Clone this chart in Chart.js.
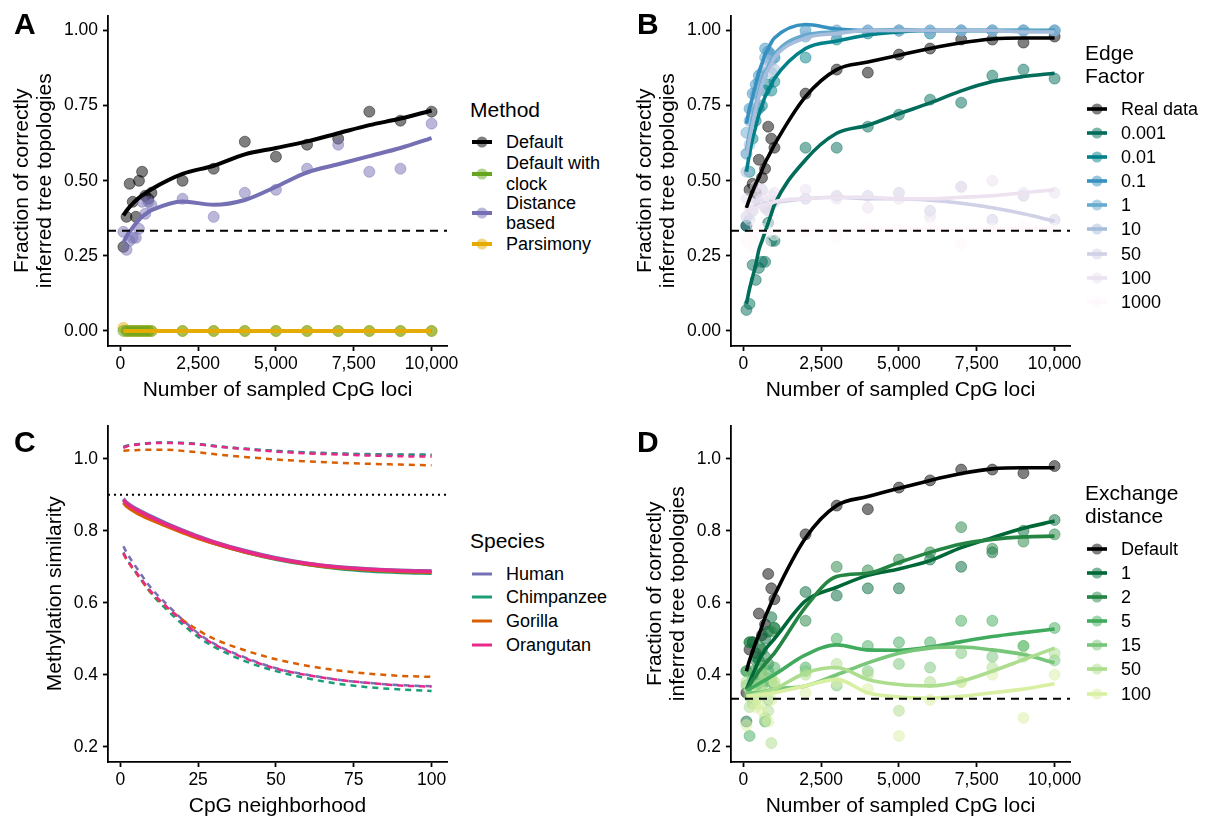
<!DOCTYPE html>
<html>
<head>
<meta charset="utf-8">
<script src="https://cdn.jsdelivr.net/npm/chart.js@4.4.0/dist/chart.umd.min.js"></script>
<style>
  body { margin: 0; background: #fff; font-family: "Liberation Sans", Arial, sans-serif; color: #000; }
  #fig { position: relative; width: 1212px; height: 820px; overflow: hidden; }
  canvas { position: absolute; }
  .tag { position: absolute; font-weight: bold; font-size: 30px; line-height: 30px; }
  .lg { position: absolute; top: 0; }
  .lg .ttl { position: absolute; left: 0; font-size: 21px; line-height: 23px; white-space: nowrap; }
  .lg .row { position: absolute; left: 0; display: flex; align-items: center; font-size: 18px; line-height: 20.5px; white-space: nowrap; }
  .lg .row svg { margin-left: 1px; margin-right: 13px; }
</style>
</head>
<body>
<div id="fig">
  <canvas id="chartA" width="467" height="405" style="left:0;top:0"></canvas>
  <canvas id="chartB" width="467" height="405" style="left:623px;top:0"></canvas>
  <canvas id="chartC" width="467" height="410" style="left:0;top:410px"></canvas>
  <canvas id="chartD" width="467" height="410" style="left:623px;top:410px"></canvas>
  <div class="tag" style="left:14px;top:9px">A</div>
  <div class="tag" style="left:637px;top:9px">B</div>
  <div class="tag" style="left:14px;top:427px">C</div>
  <div class="tag" style="left:637px;top:427px">D</div>
  <div class="lg" id="legA" style="left:470px"></div>
  <div class="lg" id="legB" style="left:1085px"></div>
  <div class="lg" id="legC" style="left:470px"></div>
  <div class="lg" id="legD" style="left:1085px"></div>
</div>
<script>
// ---- data ----
const sampledLoci = [100, 200, 300, 400, 500, 600, 700, 800, 900, 1000,
  2000, 3000, 4000, 5000, 6000, 7000, 8000, 9000, 10000];
const lociTicks = [0, 2500, 5000, 7500, 10000];
const fracTicks = [0, 0.25, 0.5, 0.75, 1];
const chanceLevel = 1 / 3;

// panel A - method
const methodNames = ['Default', 'Default with clock', 'Distance based', 'Parsimony'];
const methodColors = ['#000000', '#66a61e', '#7570b3', '#e6ab02'];
const defaultPts = [0.28, 0.38, 0.49, 0.43, 0.38, 0.50, 0.53, 0.45, 0.44, 0.46,
  0.50, 0.54, 0.63, 0.58, 0.62, 0.64, 0.73, 0.70, 0.73];
const defaultFit = [0.385, 0.40, 0.413, 0.424, 0.434, 0.443, 0.451, 0.458, 0.465, 0.472,
  0.523, 0.55, 0.588, 0.609, 0.631, 0.658, 0.685, 0.707, 0.734];
const clockPts = [0, 0, 0, 0, 0, 0, 0, 0, 0, 0, 0, 0, 0, 0, 0, 0, 0, 0, 0];
const clockFit = [0, 0, 0, 0, 0, 0, 0, 0, 0, 0, 0, 0, 0, 0, 0, 0, 0, 0, 0];
const distancePts = [0.33, 0.27, 0.30, 0.31, 0.31, 0.34, 0.43, 0.39, 0.43, 0.42,
  0.44, 0.38, 0.46, 0.47, 0.54, 0.62, 0.53, 0.54, 0.69];
const distanceFit = [0.295, 0.315, 0.33, 0.345, 0.358, 0.37, 0.38, 0.388, 0.396, 0.402,
  0.431, 0.42, 0.436, 0.48, 0.528, 0.555, 0.582, 0.609, 0.642];
const parsimonyPts = [0.01, 0, 0, 0, 0, 0, 0, 0, 0, 0, 0, 0, 0, 0, 0, 0, 0, 0, 0];
const parsimonyFit = [0, 0, 0, 0, 0, 0, 0, 0, 0, 0, 0, 0, 0, 0, 0, 0, 0, 0, 0];

// real data / default run (used in B and D)
const realPts = [0.35, 0.47, 0.49, 0.46, 0.57, 0.51, 0.54, 0.68, 0.64, 0.61,
  0.79, 0.87, 0.86, 0.92, 0.94, 0.97, 0.97, 0.96, 0.98];
const realFit = [0.41, 0.44, 0.465, 0.49, 0.51, 0.535, 0.56, 0.58, 0.60, 0.62,
  0.78, 0.87, 0.895, 0.918, 0.94, 0.959, 0.972, 0.975, 0.975];

// panel B - edge factor
const edgeNames = ['Real data', '0.001', '0.01', '0.1', '1', '10', '50', '100', '1000'];
const edgeColors = ['#000000', '#016c59', '#02818a', '#3690c0', '#67a9cf', '#a6bddb', '#d0d1e6', '#ece2f0', '#fff7fb'];
const edge0001Pts = [0.07, 0.09, 0.22, 0.17, 0.21, 0.23, 0.23, 0.36, 0.30, 0.30,
  0.61, 0.61, 0.68, 0.72, 0.77, 0.76, 0.85, 0.87, 0.84];
const edge0001Fit = [0.09, 0.14, 0.18, 0.22, 0.27, 0.30, 0.33, 0.36, 0.39, 0.42,
  0.57, 0.658, 0.685, 0.723, 0.759, 0.799, 0.83, 0.847, 0.858];
const edge001Pts = [0.35, 0.53, 0.64, 0.70, 0.74, 0.75, 0.80, 0.82, 0.80, 0.83,
  0.91, 0.97, 0.99, 1.0, 0.99, 1.0, 1.0, 1.0, 1.0];
const edge001Fit = [0.53, 0.59, 0.64, 0.68, 0.72, 0.75, 0.78, 0.80, 0.82, 0.84,
  0.94, 0.965, 0.985, 0.995, 1.0, 1.0, 1.0, 1.0, 1.0];
const edge01Pts = [0.59, 0.74, 0.79, 0.82, 0.85, 0.85, 0.94, 0.93, 0.92, 0.91,
  1.0, 1.0, 1.0, 1.0, 1.0, 1.0, 1.0, 1.0, 1.0];
const edge01Fit = [0.69, 0.74, 0.78, 0.82, 0.86, 0.89, 0.92, 0.94, 0.96, 0.975,
  1.02, 1.005, 1.0, 1.0, 1.0, 1.0, 1.0, 1.0, 1.0];
const edge1Pts = [0.66, 0.70, 0.74, 0.79, 0.83, 0.86, 0.91, 0.93, 0.90, 0.91,
  0.98, 0.99, 1.0, 1.0, 1.0, 1.0, 1.0, 1.0, 1.0];
const edge1Fit = [0.60, 0.66, 0.71, 0.75, 0.79, 0.83, 0.86, 0.88, 0.90, 0.92,
  0.985, 0.995, 1.0, 1.003, 1.0, 1.0, 1.0, 1.0, 0.997];
const edge10Pts = [0.53, 0.62, 0.71, 0.76, 0.80, 0.84, 0.88, 0.90, 0.86, 0.87,
  0.98, 1.0, 1.0, 1.0, 1.0, 1.0, 1.0, 1.0, 1.0];
const edge10Fit = [0.58, 0.64, 0.69, 0.74, 0.78, 0.82, 0.85, 0.87, 0.89, 0.91,
  0.975, 0.99, 1.0, 1.0, 1.0, 1.0, 1.0, 0.995, 0.995];
const edge50Pts = [0.38, 0.37, 0.40, 0.44, 0.43, 0.47, 0.41, 0.40, 0.42, 0.43,
  0.44, 0.45, 0.45, 0.46, 0.40, 0.48, 0.37, 0.45, 0.37];
const edge50Fit = [0.40, 0.405, 0.41, 0.415, 0.42, 0.42, 0.425, 0.425, 0.43, 0.43,
  0.44, 0.445, 0.44, 0.44, 0.435, 0.425, 0.41, 0.39, 0.365];
const edge100Pts = [0.44, 0.40, 0.42, 0.48, 0.46, 0.44, 0.41, 0.43, 0.45, 0.46,
  0.47, 0.44, 0.41, 0.44, 0.38, 0.48, 0.50, 0.46, 0.46];
const edge100Fit = [0.40, 0.405, 0.41, 0.41, 0.415, 0.42, 0.42, 0.425, 0.425, 0.43,
  0.44, 0.445, 0.445, 0.44, 0.44, 0.445, 0.45, 0.46, 0.47];
const edge1000Pts = [0.30, 0.32, 0.28, 0.35, 0.31, 0.34, 0.29, 0.33, 0.36, 0.32,
  0.33, 0.31, 0.34, 0.34, 0.35, 0.29, 0.34, 0.35, 0.34];
const edge1000Fit = [0.32, 0.322, 0.324, 0.326, 0.328, 0.33, 0.33, 0.331, 0.332, 0.333,
  0.335, 0.336, 0.337, 0.338, 0.338, 0.338, 0.339, 0.34, 0.34];

// panel C - species
const neighborhood = [1, 2, 5, 10, 15, 20, 25, 30, 40, 50, 60, 70, 80, 90, 100];
const neighborTicks = [0, 25, 50, 75, 100];
const simTicks = [0.2, 0.4, 0.6, 0.8, 1.0];
const simThreshold = 0.9;
const speciesNames = ['Human', 'Chimpanzee', 'Gorilla', 'Orangutan'];
const speciesColors = ['#7570b3', '#1b9e77', '#d95f02', '#e7298a'];
const humanMid = [0.889, 0.879, 0.862, 0.84, 0.82, 0.802, 0.785, 0.77, 0.745, 0.725, 0.71, 0.70, 0.694, 0.69, 0.688];
const chimpMid = [0.886, 0.876, 0.858, 0.836, 0.816, 0.798, 0.781, 0.766, 0.741, 0.721, 0.706, 0.695, 0.688, 0.684, 0.682];
const gorillaMid = [0.878, 0.868, 0.851, 0.83, 0.812, 0.795, 0.779, 0.765, 0.741, 0.722, 0.707, 0.697, 0.691, 0.687, 0.685];
const orangutanMid = [0.886, 0.876, 0.859, 0.837, 0.817, 0.80, 0.783, 0.768, 0.743, 0.723, 0.709, 0.699, 0.693, 0.689, 0.687];
const humanHi = [1.033, 1.036, 1.040, 1.044, 1.045, 1.044, 1.041, 1.036, 1.028, 1.022, 1.018, 1.015, 1.013, 1.012, 1.012];
const chimpHi = [1.032, 1.035, 1.040, 1.044, 1.045, 1.044, 1.041, 1.036, 1.028, 1.022, 1.017, 1.014, 1.012, 1.011, 1.010];
const gorillaHi = [1.022, 1.023, 1.024, 1.025, 1.025, 1.022, 1.018, 1.013, 1.005, 0.998, 0.993, 0.989, 0.986, 0.984, 0.982];
const orangutanHi = [1.030, 1.034, 1.039, 1.043, 1.044, 1.043, 1.040, 1.035, 1.027, 1.020, 1.015, 1.012, 1.009, 1.007, 1.006];
const humanLo = [0.757, 0.74, 0.70, 0.64, 0.595, 0.553, 0.515, 0.487, 0.448, 0.418, 0.40, 0.386, 0.377, 0.371, 0.368];
const chimpLo = [0.74, 0.723, 0.685, 0.625, 0.58, 0.54, 0.505, 0.478, 0.438, 0.41, 0.39, 0.375, 0.365, 0.359, 0.355];
const gorillaLo = [0.736, 0.72, 0.683, 0.627, 0.587, 0.553, 0.524, 0.50, 0.468, 0.443, 0.425, 0.412, 0.403, 0.397, 0.394];
const orangutanLo = [0.738, 0.722, 0.686, 0.63, 0.588, 0.548, 0.512, 0.485, 0.446, 0.417, 0.399, 0.386, 0.377, 0.37, 0.367];

// panel D - exchange distance
const fracTicksD = [0.2, 0.4, 0.6, 0.8, 1.0];
const exchNames = ['Default', '1', '2', '5', '15', '50', '100'];
const exchColors = ['#000000', '#006837', '#238443', '#41ab5d', '#78c679', '#addd8e', '#d9f0a3'];
const exch1Pts = [0.27, 0.49, 0.49, 0.45, 0.44, 0.47, 0.50, 0.52, 0.56, 0.53,
  0.63, 0.62, 0.64, 0.64, 0.72, 0.70, 0.74, 0.80, 0.83];
const exch1Fit = [0.36, 0.38, 0.40, 0.42, 0.44, 0.455, 0.47, 0.48, 0.49, 0.50,
  0.605, 0.643, 0.676, 0.694, 0.717, 0.753, 0.781, 0.807, 0.827];
const exch2Pts = [0.41, 0.49, 0.41, 0.44, 0.48, 0.40, 0.45, 0.43, 0.52, 0.53,
  0.55, 0.70, 0.69, 0.72, 0.74, 0.81, 0.75, 0.77, 0.79];
const exch2Fit = [0.36, 0.37, 0.385, 0.395, 0.41, 0.42, 0.43, 0.44, 0.45, 0.46,
  0.588, 0.673, 0.682, 0.712, 0.74, 0.763, 0.776, 0.783, 0.785];
const exch5Pts = [0.41, 0.23, 0.39, 0.38, 0.42, 0.37, 0.27, 0.41, 0.38, 0.42,
  0.42, 0.50, 0.48, 0.49, 0.49, 0.55, 0.55, 0.48, 0.53];
const exch5Fit = [0.355, 0.36, 0.365, 0.37, 0.375, 0.38, 0.385, 0.39, 0.395, 0.40,
  0.455, 0.483, 0.469, 0.468, 0.477, 0.492, 0.506, 0.517, 0.527];
const exch15Pts = [0.37, 0.34, 0.40, 0.36, 0.35, 0.42, 0.38, 0.33, 0.39, 0.37,
  0.41, 0.37, 0.41, 0.43, 0.42, 0.46, 0.45, 0.48, 0.44];
const exch15Fit = [0.35, 0.35, 0.35, 0.35, 0.35, 0.352, 0.354, 0.356, 0.358, 0.36,
  0.369, 0.40, 0.433, 0.46, 0.474, 0.477, 0.469, 0.456, 0.433];
const exch50Pts = [0.38, 0.31, 0.32, 0.33, 0.37, 0.40, 0.28, 0.30, 0.21, 0.38,
  0.40, 0.43, 0.40, 0.30, 0.38, 0.38, 0.42, 0.45, 0.46];
const exch50Fit = [0.34, 0.342, 0.344, 0.346, 0.348, 0.35, 0.352, 0.354, 0.357, 0.36,
  0.405, 0.42, 0.387, 0.373, 0.369, 0.382, 0.41, 0.442, 0.474];
const exch100Pts = [0.26, 0.36, 0.34, 0.31, 0.32, 0.30, 0.35, 0.27, 0.33, 0.38,
  0.35, 0.38, 0.36, 0.23, 0.33, 0.38, 0.40, 0.28, 0.40];
const exch100Fit = [0.34, 0.341, 0.342, 0.343, 0.344, 0.345, 0.346, 0.347, 0.348, 0.35,
  0.369, 0.387, 0.35, 0.338, 0.335, 0.34, 0.35, 0.36, 0.375];

// ---- helpers ----
const FONT = '"Liberation Sans", Arial, sans-serif';

function rgba(hex, a) {
  const n = parseInt(hex.slice(1), 16);
  return `rgba(${n >> 16},${(n >> 8) & 255},${n & 255},${a})`;
}

function pointSet(xs, ys, color) {
  return {
    data: xs.map((x, i) => ({ x, y: ys[i] })),
    showLine: false,
    pointRadius: 5.5,
    pointHoverRadius: 5.5,
    pointBackgroundColor: rgba(color, 0.5),
    pointBorderColor: rgba(color, 0.45),
    pointBorderWidth: 1,
  };
}

function fitSet(xs, ys, color, width, dash) {
  return {
    data: xs.map((x, i) => ({ x, y: ys[i] })),
    borderColor: color,
    borderWidth: width,
    borderDash: dash || [],
    pointRadius: 0,
    fill: false,
    cubicInterpolationMode: 'monotone',
  };
}

// later datasets are drawn on top, like ggplot layers
function stackOrder(sets) {
  sets.forEach((d, i) => { d.order = sets.length - i; });
  return sets;
}

const refLine = {
  id: 'refLine',
  afterDatasetsDraw(chart, args, opts) {
    if (opts.value == null) return;
    const { ctx, chartArea } = chart;
    const py = chart.scales.y.getPixelForValue(opts.value);
    ctx.save();
    ctx.strokeStyle = '#000';
    ctx.lineWidth = opts.width;
    ctx.setLineDash(opts.dash);
    ctx.beginPath();
    ctx.moveTo(chartArea.left, py);
    ctx.lineTo(chartArea.right, py);
    ctx.stroke();
    ctx.restore();
  },
};

function makeAxis(o) {
  return {
    type: 'linear',
    min: o.min,
    max: o.max,
    afterBuildTicks: (s) => { s.ticks = o.ticks.map((v) => ({ value: v })); },
    afterFit: (s) => { if (o.width) s.width = o.width; if (o.height) s.height = o.height; },
    ticks: {
      autoSkip: false,
      maxRotation: 0,
      padding: o.pad,
      color: '#000',
      font: { family: FONT, size: 17.5 },
      callback: o.fmt,
    },
    grid: { display: true, drawOnChartArea: false, drawTicks: true, tickLength: 5, tickWidth: 1.8, tickColor: '#000' },
    border: { display: true, color: '#000', width: 1.8 },
    title: {
      display: true,
      text: o.title,
      color: '#000',
      font: { family: FONT, size: 21, lineHeight: 1.1 },
      padding: o.titlePad,
    },
  };
}

function drawPanel(id, o) {
  new Chart(document.getElementById(id), {
    type: 'line',
    data: { datasets: stackOrder(o.sets) },
    options: {
      responsive: false,
      animation: false,
      devicePixelRatio: 1,
      layout: { padding: { left: 0, right: 20, top: o.top, bottom: 0 } },
      scales: {
        x: makeAxis({
          min: o.xMin, max: o.xMax, ticks: o.xTicks, pad: 3, height: o.xh,
          fmt: (v) => v.toLocaleString('en-US'), title: o.xTitle,
          titlePad: { top: 0, bottom: o.xTitlePad },
        }),
        y: makeAxis({
          min: o.yMin, max: o.yMax, ticks: o.yTicks, pad: 5, width: 108,
          fmt: (v) => v.toFixed(o.yDigits), title: o.yTitle,
          titlePad: { top: o.yTitlePad, bottom: 0 },
        }),
      },
      plugins: {
        legend: { display: false },
        tooltip: { enabled: false },
        refLine: o.ref,
      },
    },
    plugins: [refLine],
  });
}

function buildSets(xs, pts, fits, colors, width) {
  const points = pts.map((p, i) => pointSet(xs, p, colors[i]));
  const lines = fits.map((f, i) => fitSet(xs, f, colors[i], width));
  return points.concat(lines);
}

// ---- panels ----
const fracTitle = ['Fraction of correctly', 'inferred tree topologies'];
const lociTitle = 'Number of sampled CpG loci';

// A: parsimony points sit under the clock points
const setsA = [
  pointSet(sampledLoci, defaultPts, methodColors[0]),
  pointSet(sampledLoci, parsimonyPts, methodColors[3]),
  pointSet(sampledLoci, clockPts, methodColors[1]),
  pointSet(sampledLoci, distancePts, methodColors[2]),
  fitSet(sampledLoci, defaultFit, methodColors[0], 4),
  fitSet(sampledLoci, clockFit, methodColors[1], 4),
  fitSet(sampledLoci, distanceFit, methodColors[2], 4),
  fitSet(sampledLoci, parsimonyFit, methodColors[3], 4),
];
drawPanel('chartA', {
  sets: setsA, top: 6, xh: 59, xTitlePad: 3.5, yTitlePad: 10.5,
  xMin: -395, xMax: 10495, xTicks: lociTicks, xTitle: lociTitle,
  yMin: -0.05, yMax: 1.05, yTicks: fracTicks, yDigits: 2, yTitle: fracTitle,
  ref: { value: chanceLevel, dash: [8, 6], width: 2 },
});

drawPanel('chartB', {
  sets: buildSets(sampledLoci,
    [realPts, edge0001Pts, edge001Pts, edge01Pts, edge1Pts, edge10Pts, edge50Pts, edge100Pts, edge1000Pts],
    [realFit, edge0001Fit, edge001Fit, edge01Fit, edge1Fit, edge10Fit, edge50Fit, edge100Fit, edge1000Fit],
    edgeColors, 3.6),
  top: 6, xh: 59, xTitlePad: 3.5, yTitlePad: 10.5,
  xMin: -395, xMax: 10495, xTicks: lociTicks, xTitle: lociTitle,
  yMin: -0.05, yMax: 1.05, yTicks: fracTicks, yDigits: 2, yTitle: fracTitle,
  ref: { value: chanceLevel, dash: [8, 6], width: 2 },
});

const midC = [humanMid, chimpMid, gorillaMid, orangutanMid];
const hiC = [humanHi, chimpHi, gorillaHi, orangutanHi];
const loC = [humanLo, chimpLo, gorillaLo, orangutanLo];
const setsC = [];
speciesColors.forEach((c, i) => {
  setsC.push(fitSet(neighborhood, hiC[i], c, 2.5, [6, 5]));
  setsC.push(fitSet(neighborhood, loC[i], c, 2.5, [6, 5]));
});
speciesColors.forEach((c, i) => setsC.push(fitSet(neighborhood, midC[i], c, 3.5)));
drawPanel('chartC', {
  sets: setsC, top: 13, xh: 58, xTitlePad: 2.5, yTitlePad: 43.5,
  xMin: -3.95, xMax: 104.95, xTicks: neighborTicks, xTitle: 'CpG neighborhood',
  yMin: 0.1575, yMax: 1.0925, yTicks: simTicks, yDigits: 1, yTitle: 'Methylation similarity',
  ref: { value: simThreshold, dash: [2, 4], width: 2 },
});

drawPanel('chartD', {
  sets: buildSets(sampledLoci,
    [realPts, exch1Pts, exch2Pts, exch5Pts, exch15Pts, exch50Pts, exch100Pts],
    [realFit, exch1Fit, exch2Fit, exch5Fit, exch15Fit, exch50Fit, exch100Fit],
    exchColors, 3.6),
  top: 13, xh: 58, xTitlePad: 2.5, yTitlePad: 20.5,
  xMin: -395, xMax: 10495, xTicks: lociTicks, xTitle: lociTitle,
  yMin: 0.1575, yMax: 1.0925, yTicks: fracTicksD, yDigits: 1, yTitle: fracTitle,
  ref: { value: chanceLevel, dash: [8, 6], width: 2 },
});

// ---- legends (html) ----
function keySvg(color, withPoint, width) {
  const dot = withPoint ? `<circle cx="11" cy="8" r="5.5" fill="${rgba(color, 0.5)}"/>` : '';
  return `<svg width="22" height="16">${dot}<line x1="1" y1="8" x2="21" y2="8" stroke="${color}" stroke-width="${width}"/></svg>`;
}

function legend(id, title, titleTop, names, colors, centers, withPoint, width) {
  const el = document.getElementById(id);
  let html = `<div class="ttl" style="top:${titleTop}px">${title.join('<br>')}</div>`;
  names.forEach((n, i) => {
    const lines = n.split('\n');
    const h = lines.length * 20.5;
    html += `<div class="row" style="top:${centers[i] - h / 2}px;height:${h}px">` +
      keySvg(colors[i], withPoint, width) + `<span>${lines.join('<br>')}</span></div>`;
  });
  el.innerHTML = html;
}

legend('legA', ['Method'], 97.5,
  ['Default', 'Default with\nclock', 'Distance\nbased', 'Parsimony'],
  methodColors, [142, 173.5, 213, 244], true, 4);
legend('legB', ['Edge', 'Factor'], 40.5, edgeNames, edgeColors,
  [109, 133, 157, 181, 205, 229, 254, 278, 302], true, 3.6);
legend('legC', ['Species'], 528.5, speciesNames, speciesColors,
  [574, 597, 621, 645], false, 3);
legend('legD', ['Exchange', 'distance'], 480.5, exchNames, exchColors,
  [549, 573, 597, 621, 645, 669, 694], true, 3.6);
</script>
</body>
</html>
